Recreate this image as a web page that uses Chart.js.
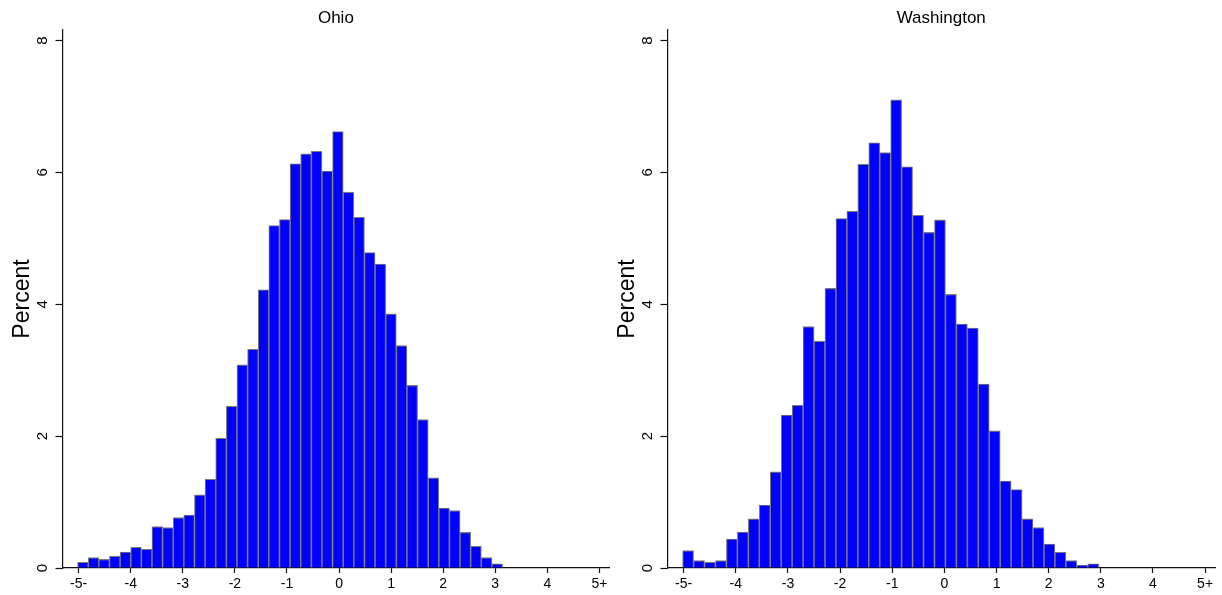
<!DOCTYPE html>
<html>
<head>
<meta charset="utf-8">
<title>Ohio / Washington histograms</title>
<script src="https://cdn.jsdelivr.net/npm/chart.js@4.4.1/dist/chart.umd.min.js"></script>
<style>
  html, body { margin: 0; padding: 0; background: #fff; overflow: hidden; }
  .panel { position: absolute; top: 0; height: 595px; }
  #ohioPanel { left: 0; width: 612px; }
  #waPanel { left: 605px; width: 617px; }
</style>
</head>
<body>
<div class="panel" id="ohioPanel"><canvas id="ohioChart"></canvas></div>
<div class="panel" id="waPanel"><canvas id="waChart"></canvas></div>

<script>
/* ── DATA ── */
const xTickValues = [-5, -4, -3, -2, -1, 0, 1, 2, 3, 4, 5];
const xTickLabels = ["-5-", "-4", "-3", "-2", "-1", "0", "1", "2", "3", "4", "5+"];
const yTickValues = [0, 2, 4, 6, 8];

// Ohio: 40 bins starting at -5.02, width 0.204
const ohioBinStart = -5.02;
const ohioBinWidth = 0.204;
const ohioPercent = [
  0.087, 0.157, 0.13, 0.18, 0.243, 0.314, 0.283, 0.627, 0.612, 0.764,
  0.804, 1.108, 1.345, 1.968, 2.453, 3.08, 3.318, 4.22, 5.195, 5.286,
  6.13, 6.28, 6.32, 6.02, 6.62, 5.7, 5.32, 4.785, 4.61, 3.854,
  3.373, 2.77, 2.25, 1.366, 0.91, 0.87, 0.54, 0.33, 0.157, 0.065,
];

// Washington: 38 bins starting at -5.02, width 0.21
const waBinStart = -5.02;
const waBinWidth = 0.21;
const waPercent = [
  0.263, 0.111, 0.086, 0.111, 0.44, 0.546, 0.744, 0.956, 1.457, 2.32,
  2.468, 3.66, 3.44, 4.24, 5.3, 5.41, 6.125, 6.45, 6.3, 7.1,
  6.085, 5.35, 5.09, 5.28, 4.15, 3.7, 3.64, 2.79, 2.08, 1.32,
  1.19, 0.744, 0.612, 0.364, 0.238, 0.111, 0.045, 0.065,
];

const FONT = "'Liberation Sans', Arial, Helvetica, sans-serif";
const AXIS_COLOR = "#111";

/* ── CHART BUILDER ── */
function buildHistogram(canvasId, title, binStart, binWidth, values, padRight) {
  const ctx = document.getElementById(canvasId);
  if (!ctx) return;

  const points = values.map((v, i) => ({
    x: binStart + binWidth * (i + 0.5),
    y: v,
  }));

  new Chart(ctx, {
    type: "bar",
    data: {
      datasets: [
        {
          data: points,
          backgroundColor: "#0000ff",
          borderColor: "#7a7a7a",
          borderWidth: 1.1,
          barPercentage: 1,
          categoryPercentage: 1,
        },
      ],
    },
    options: {
      responsive: true,
      maintainAspectRatio: false,
      animation: false,
      events: [],
      layout: { padding: { left: 0, right: padRight, top: 0, bottom: 0 } },
      plugins: {
        legend: { display: false },
        tooltip: { enabled: false },
        title: {
          display: true,
          text: title,
          fullSize: false,
          color: "#000",
          font: { family: FONT, size: 17, weight: "normal" },
          padding: { top: 8, bottom: 1.6 },
        },
      },
      scales: {
        x: {
          type: "linear",
          min: -5.31,
          max: 5.19,
          offset: false,
          afterBuildTicks: (scale) => {
            scale.ticks = xTickValues.map((v) => ({ value: v }));
          },
          afterFit: (scale) => {
            scale.height = 27;
          },
          border: { display: true, color: AXIS_COLOR, width: 1.2 },
          grid: {
            offset: false,
            drawOnChartArea: false,
            drawTicks: true,
            tickLength: 5,
            tickColor: AXIS_COLOR,
            tickWidth: 1.2,
          },
          ticks: {
            color: "#000",
            font: { family: FONT, size: 14 },
            padding: 3,
            maxRotation: 0,
            autoSkip: false,
            callback: (v, i) => xTickLabels[i],
          },
        },
        y: {
          type: "linear",
          min: 0,
          max: 8.16,
          afterBuildTicks: (scale) => {
            scale.ticks = yTickValues.map((v) => ({ value: v }));
          },
          afterFit: (scale) => {
            scale.width = 62.5;
          },
          border: { display: true, color: AXIS_COLOR, width: 1.2 },
          grid: {
            drawOnChartArea: false,
            drawTicks: true,
            tickLength: 7,
            tickColor: AXIS_COLOR,
            tickWidth: 1.2,
          },
          ticks: {
            color: "#000",
            font: { family: FONT, size: 15 },
            padding: 8,
            minRotation: 90,
            maxRotation: 90,
            crossAlign: "center",
            autoSkip: false,
          },
          title: {
            display: true,
            text: "Percent",
            color: "#000",
            font: { family: FONT, size: 23 },
            padding: { top: 9, bottom: 0 },
          },
        },
      },
    },
  });
}

buildHistogram("ohioChart", "Ohio", ohioBinStart, ohioBinWidth, ohioPercent, 2.7);
buildHistogram("waChart", "Washington", waBinStart, waBinWidth, waPercent, 7);
</script>
</body>
</html>
